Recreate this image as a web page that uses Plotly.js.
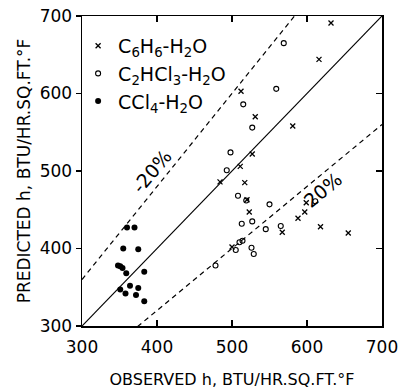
<!DOCTYPE html>
<html><head><meta charset="utf-8">
<script src="https://cdn.plot.ly/plotly-3.0.1.min.js"></script>
<style>html,body{margin:0;padding:0;background:#fff}#chart{width:399px;height:391px}</style>
</head><body><div id="chart"></div>
<script>
// C6H6-H2O (crosses)
const benzeneObs  = [632, 616, 512, 531, 581, 527, 511, 484, 517, 520, 523, 599, 597, 588, 618, 567, 655, 500];
const benzenePred = [691, 644, 603, 570, 558, 522, 506, 486, 485, 463, 447, 459, 447, 439, 428, 421, 420, 402];
// C2HCl3-H2O (open circles)
const tceObs  = [569, 559, 515, 527, 498, 493, 508, 519, 550, 611, 513, 527, 545, 565, 510, 514, 505, 526, 529, 478];
const tcePred = [665, 606, 586, 556, 524, 501, 468, 462, 457, 461, 432, 435, 425, 429, 408, 410, 398, 401, 393, 378];
// CCl4-H2O (filled dots)
const cclObs  = [360, 370, 355, 375, 348, 351, 354, 359, 383, 364, 351, 375, 358, 372, 383];
const cclPred = [427, 427, 400, 399, 378, 377, 375, 368, 370, 352, 347, 349, 342, 340, 332];
// reference lines: predicted = ratio * observed
const refRatios = [1.2, 1.0, 0.8];
const refDash   = ['5px,4px', 'solid', '5px,4px'];
const refRange  = [300, 700];
const tickVals  = [300, 400, 500, 600, 700];

const FONT = 'DejaVu Sans, sans-serif';
const traces = [];
refRatios.forEach((r, i) => {
  traces.push({x: refRange, y: refRange.map(v => v * r), mode: 'lines', showlegend: false,
    line: {color: '#000', width: 1.2, dash: refDash[i]}, hoverinfo: 'skip'});
});
traces.push({x: benzeneObs, y: benzenePred, mode: 'markers', name: 'C<sub>6</sub>H<sub>6</sub>-H<sub>2</sub>O',
  marker: {symbol: 'x-thin-open', size: 5, color: '#000', line: {width: 1.3, color: '#000'}}});
traces.push({x: tceObs, y: tcePred, mode: 'markers', name: 'C<sub>2</sub>HCl<sub>3</sub>-H<sub>2</sub>O',
  marker: {symbol: 'circle-open', size: 5, color: '#000', line: {width: 1.1, color: '#000'}}});
traces.push({x: cclObs, y: cclPred, mode: 'markers', name: 'CCl<sub>4</sub>-H<sub>2</sub>O',
  marker: {symbol: 'circle', size: 6, color: '#000'}});
// invisible trace for right axis ticks
traces.push({x: [300], y: [300], yaxis: 'y2', mode: 'markers', showlegend: false, marker: {opacity: 0}, hoverinfo: 'skip'});

const axBase = {range: [300, 700], tickvals: tickVals, showgrid: false, zeroline: false,
  showline: true, linecolor: '#000', linewidth: 1.5, tickcolor: '#000', ticklen: 6, tickwidth: 1.2,
  tickfont: {family: FONT, size: 17, color: '#000'}};

const layout = {
  width: 399, height: 391,
  margin: {l: 82, r: 17, t: 16, b: 65},
  paper_bgcolor: '#fff', plot_bgcolor: '#fff',
  font: {family: FONT, color: '#000'},
  showlegend: true,
  legend: {x: -0.013, y: 0.965, xanchor: 'left', yanchor: 'top', bgcolor: 'rgba(0,0,0,0)',
    font: {family: FONT, size: 19, color: '#000'}, tracegroupgap: 0},
  xaxis: Object.assign({}, axBase, {ticks: 'inside', mirror: 'ticks', ticklabelstandoff: 5,
    title: {text: 'OBSERVED h, BTU/HR.SQ.FT.°F', font: {family: FONT, size: 16, color: '#000'}, standoff: 18}}),
  yaxis: Object.assign({}, axBase, {ticks: 'outside', ticklen: 5, mirror: true,
    title: {text: 'PREDICTED h, BTU/HR.SQ.FT.°F', font: {family: FONT, size: 17, color: '#000'}, standoff: 4}}),
  yaxis2: Object.assign({}, axBase, {overlaying: 'y', side: 'right', ticks: 'inside', showticklabels: false, showline: false}),
  annotations: [
    {x: 393, y: 500, xref: 'x', yref: 'y', text: '-20%', showarrow: false, textangle: -50,
     font: {family: FONT, size: 19, color: '#000'}},
    {x: 621, y: 475, xref: 'x', yref: 'y', text: '20%', showarrow: false, textangle: -40,
     font: {family: FONT, size: 19, color: '#000'}}
  ]
};
Plotly.newPlot('chart', traces, layout, {staticPlot: true});
</script></body></html>
